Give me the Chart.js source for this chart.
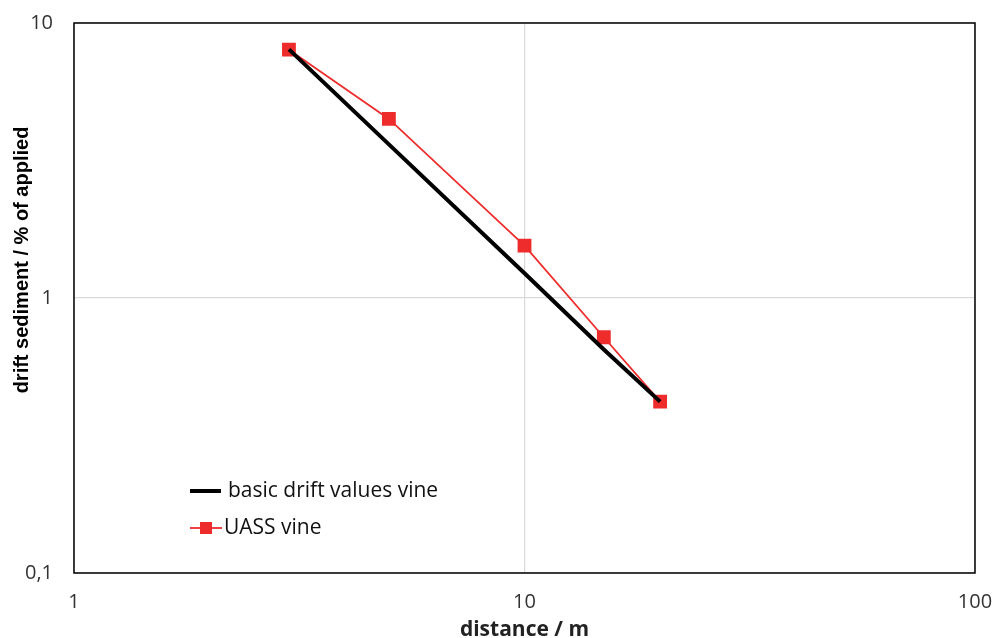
<!DOCTYPE html>
<html>
<head>
  <meta charset="UTF-8">
  <title>drift sediment</title>
  <script src="https://cdn.jsdelivr.net/npm/chart.js"></script>
  <style>
    html, body { margin: 0; padding: 0; background: #fff; }
    #wrap { width: 993px; height: 638px; }
  </style>
</head>
<body>
  <div id="wrap"><canvas id="chart" width="993" height="638"></canvas></div>
  <script>
    // data
    const distances = [3, 5, 10, 15, 20];
    const basicDrift = [8.02, 3.62, 1.23, 0.65, 0.42];
    const uassVine = [8.0, 4.48, 1.55, 0.72, 0.42];
    const xTicks = [1, 10, 100];
    const yTicks = [0.1, 1, 10];
    const seriesNames = ['basic drift values vine', 'UASS vine'];

    const RED = '#ee2c2c';
    const tickFont = { family: '"Open Sans", "Liberation Sans", sans-serif', size: 20 };

    // frame, y title and legend drawn over the chart area
    const extras = {
      id: 'extras',
      afterDraw(chart) {
        const c = chart.ctx, a = chart.chartArea;
        c.save();
        c.strokeStyle = '#000';
        c.lineWidth = 1.5;
        c.strokeRect(a.left, a.top, a.right - a.left, a.bottom - a.top);

        // y axis title
        c.translate(22, 260);
        c.rotate(-Math.PI / 2);
        c.fillStyle = '#000';
        c.font = 'bold 20px "Liberation Sans", Arial, sans-serif';
        c.textAlign = 'center';
        c.textBaseline = 'middle';
        c.fillText('drift sediment / % of applied', 0, 0);
        c.restore();

        // legend
        c.save();
        c.font = '21px "Open Sans", "Liberation Sans", sans-serif';
        c.fillStyle = '#111';
        c.textBaseline = 'middle';
        c.strokeStyle = '#000';
        c.lineWidth = 4;
        c.beginPath(); c.moveTo(190, 491); c.lineTo(221, 491); c.stroke();
        c.fillText(seriesNames[0], 228, 491);
        c.strokeStyle = RED;
        c.lineWidth = 1.8;
        c.beginPath(); c.moveTo(190, 528); c.lineTo(222, 528); c.stroke();
        c.fillStyle = RED;
        c.fillRect(200, 522, 12, 12);
        c.fillStyle = '#111';
        c.fillText(seriesNames[1], 224, 528);
        c.restore();
      }
    };

    new Chart(document.getElementById('chart'), {
      type: 'line',
      data: {
        datasets: [
          {
            label: seriesNames[0],
            data: distances.map((d, i) => ({ x: d, y: basicDrift[i] })),
            borderColor: '#000',
            borderWidth: 4,
            pointRadius: 0,
            tension: 0
          },
          {
            label: seriesNames[1],
            data: distances.map((d, i) => ({ x: d, y: uassVine[i] })),
            borderColor: RED,
            backgroundColor: RED,
            borderWidth: 1.8,
            pointStyle: 'rect',
            pointRadius: 8.5,
            tension: 0
          }
        ]
      },
      options: {
        responsive: false,
        animation: false,
        layout: { padding: { top: 23, right: 18, left: 0, bottom: 0 } },
        plugins: { legend: { display: false }, tooltip: { enabled: false } },
        scales: {
          x: {
            type: 'logarithmic',
            min: 1, max: 100,
            afterBuildTicks: s => { s.ticks = xTicks.map(v => ({ value: v })); },
            afterFit: s => { s.height = 65; s.paddingLeft = 0; s.paddingRight = 0; },
            ticks: {
              font: tickFont, color: '#333', padding: 17,
              maxRotation: 0,
              callback: v => String(v)
            },
            grid: { color: '#d9d9d9', lineWidth: 1.2, drawTicks: false },
            border: { display: false },
            title: {
              display: true, text: 'distance / m', color: '#222',
              font: { family: '"Open Sans", "Liberation Sans", sans-serif', size: 21, weight: 'bold' },
              padding: { top: 0, bottom: -5 }
            }
          },
          y: {
            type: 'logarithmic',
            min: 0.1, max: 10,
            afterBuildTicks: s => { s.ticks = yTicks.map(v => ({ value: v })); },
            afterFit: s => { s.width = 74; s.paddingTop = 0; s.paddingBottom = 0; },
            ticks: {
              font: tickFont, color: '#333', padding: 21,
              callback: v => String(v).replace('.', ',')
            },
            grid: { color: '#d9d9d9', lineWidth: 1.2, drawTicks: false },
            border: { display: false }
          }
        }
      },
      plugins: [extras]
    });
  </script>
</body>
</html>
